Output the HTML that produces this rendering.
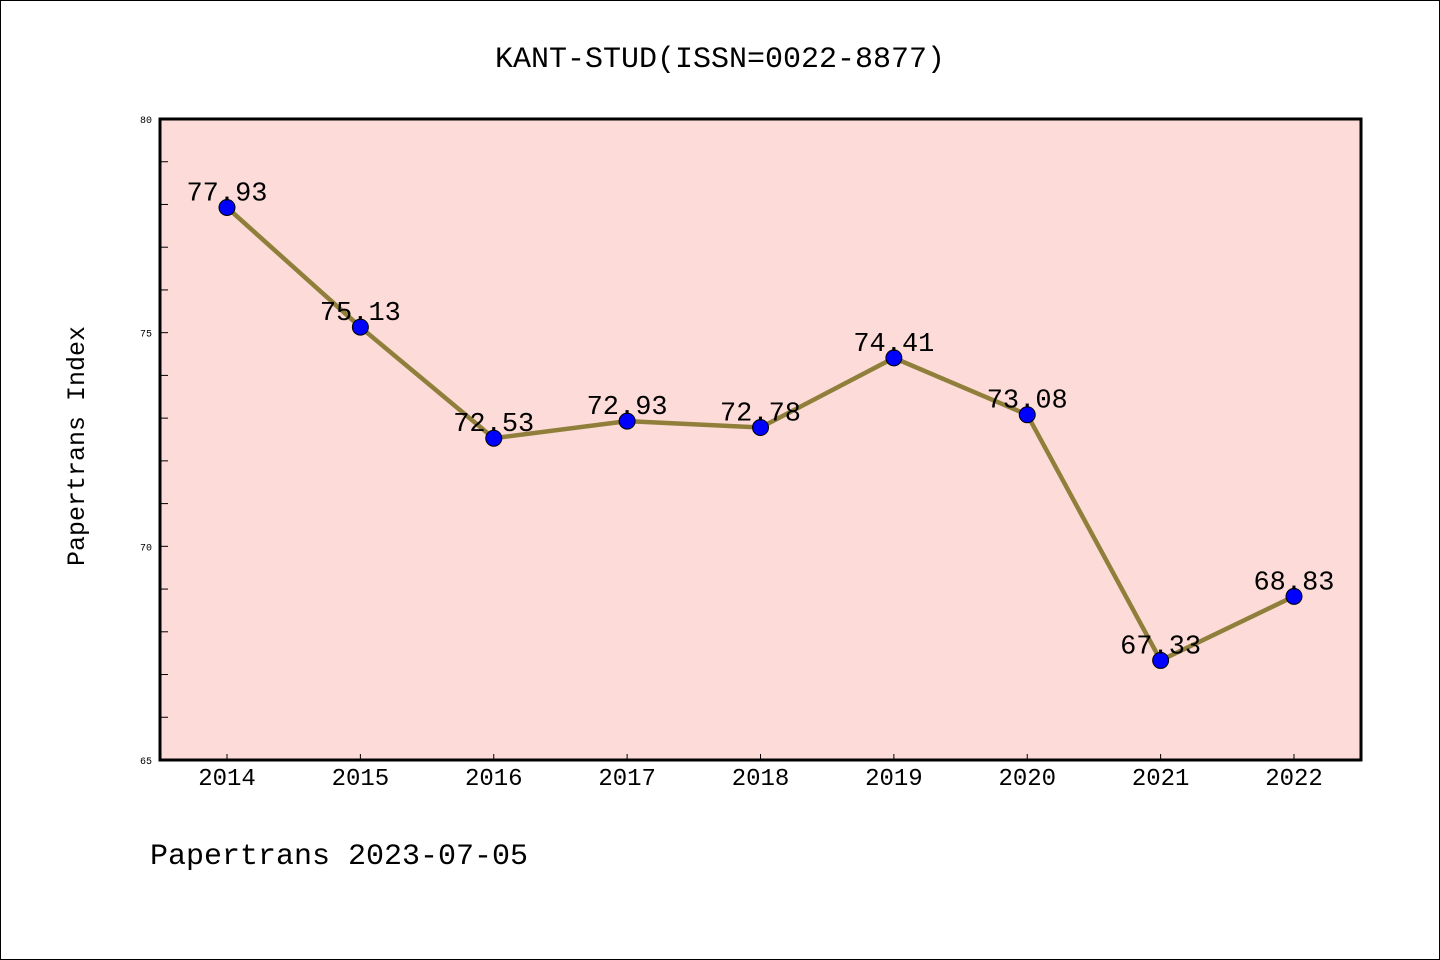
<!DOCTYPE html>
<html><head><meta charset="utf-8"><style>
html,body{margin:0;padding:0;background:#fff}
svg{display:block}
text{font-family:"Liberation Mono","WenQuanYi Zen Hei",monospace;fill:#000}
</style></head><body>
<svg id="c" width="1440" height="960">
<rect x="0.5" y="0.5" width="1439" height="959" fill="#fff" stroke="#000"/>
<text x="720" y="67" font-size="30" text-anchor="middle">KANT-STUD(ISSN=0022-8877)</text>
<rect x="160" y="119" width="1201" height="641" fill="#fddbd8"/>
<g id="g"></g>
<rect x="160" y="119" width="1201" height="641" fill="none" stroke="#000" stroke-width="3"/>
<text transform="translate(84,446) rotate(-90)" font-size="25" text-anchor="middle">Papertrans Index</text>
<text x="150" y="864" font-size="30">Papertrans 2023-07-05</text>
</svg>
<script>
const years=["2014","2015","2016","2017","2018","2019","2020","2021","2022"];
const values=[77.93,75.13,72.53,72.93,72.78,74.41,73.08,67.33,68.83];
const labels=["77.93","75.13","72.53","72.93","72.78","74.41","73.08","67.33","68.83"];
const yTicks=[65,70,75,80];
const NS="http://www.w3.org/2000/svg";
const g=document.getElementById('g');
function X(i){return 227+i*(1294-227)/8;}
function Y(v){return 760-(v-65)*(760-119)/15;}
function el(t,a){const e=document.createElementNS(NS,t);for(const k in a)e.setAttribute(k,a[k]);g.appendChild(e);return e;}
for(let v=66;v<80;v++){const l=el('line',{x1:160,x2:168,y1:Y(v),y2:Y(v),stroke:'#000','stroke-width':1});

}
yTicks.forEach(v=>{const t=el('text',{x:152,y:Y(v)+4,'font-size':10,'text-anchor':'end'});t.textContent=v;

});
years.forEach((yr,i)=>{const l=el('line',{x1:X(i),x2:X(i),y1:760,y2:754,stroke:'#000','stroke-width':1});


const t=el('text',{x:X(i),y:785,'font-size':24,'text-anchor':'middle'});t.textContent=yr;

});
const pl=el('polyline',{points:values.map((v,i)=>X(i)+','+Y(v)).join(' '),fill:'none',stroke:'#8f7f3a','stroke-width':4.5});


values.forEach((v,i)=>{const c=el('circle',{cx:X(i),cy:Y(v),r:8,fill:'#0000ff',stroke:'#000','stroke-width':1});


const t=el('text',{x:X(i),y:Y(v)-7,'font-size':27,'text-anchor':'middle'});t.textContent=labels[i];

});
</script>
</body></html>
